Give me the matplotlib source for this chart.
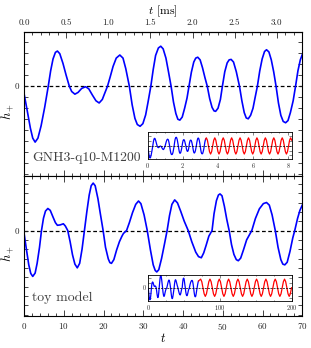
import numpy as np
import matplotlib
matplotlib.use("Agg")
import matplotlib.pyplot as plt
from matplotlib.ticker import MultipleLocator, FixedLocator, FuncFormatter

plt.rcParams['font.family'] = 'serif'
plt.rcParams['font.serif'] = ['cmr10']
plt.rcParams['mathtext.fontset'] = 'cm'
plt.rcParams['axes.formatter.use_mathtext'] = True

MS_PER_T = 0.04717

# top panel: GNH3-q10-M1200 waveform
t_gnh = [0.0, 0.8, 1.6, 2.2, 2.8, 3.5, 4.3, 5.2, 6.1, 6.7, 7.3, 7.9, 8.4, 9.0, 9.8,
         10.6, 11.4, 12.0, 12.8, 13.6, 14.5, 15.5, 16.3, 17.2, 18.1, 18.9, 19.7,
         20.3, 21.0, 21.7, 22.4, 23.2, 24.1, 24.9, 25.6, 26.5, 27.2, 27.9, 28.5,
         29.2, 29.9, 30.6, 31.2, 31.9, 32.5, 33.1, 33.8, 34.4, 35.0, 35.7, 36.3,
         37.0, 37.6, 38.2, 38.7, 39.2, 39.8, 40.4, 41.0, 41.5, 42.1, 42.7, 43.2,
         43.7, 44.3, 44.9, 45.5, 46.1, 46.7, 47.3, 47.8, 48.2, 48.8, 49.4, 49.9,
         50.5, 51.1, 51.6, 52.1, 52.7, 53.4, 54.2, 54.8, 55.4, 55.9, 56.4, 57.0,
         57.6, 58.1, 58.7, 59.3, 59.9, 60.5, 61.0, 61.6, 62.2, 62.8, 63.4, 64.0,
         64.6, 65.2, 65.8, 66.4, 67.0, 67.7, 68.3, 68.9, 69.5, 70.0]
h_gnh = [-0.16, -0.55, -0.95, -1.18, -1.27, -1.18, -0.90, -0.48, 0.0, 0.35, 0.62,
         0.77, 0.80, 0.74, 0.52, 0.25, 0.0, -0.12, -0.18, -0.14, -0.05, -0.01,
         -0.06, -0.20, -0.33, -0.38, -0.30, -0.16, 0.0, 0.22, 0.45, 0.64, 0.71,
         0.64, 0.40, 0.0, -0.42, -0.73, -0.87, -0.91, -0.85, -0.65, -0.36, 0.0,
         0.38, 0.70, 0.87, 0.91, 0.85, 0.64, 0.35, 0.0, -0.36, -0.62, -0.75,
         -0.77, -0.70, -0.50, -0.27, 0.0, 0.32, 0.55, 0.64, 0.66, 0.60, 0.42,
         0.20, 0.0, -0.28, -0.48, -0.56, -0.57, -0.50, -0.30, 0.0, 0.33, 0.53,
         0.60, 0.61, 0.55, 0.33, 0.0, -0.33, -0.60, -0.72, -0.74, -0.66, -0.50,
         -0.27, 0.0, 0.35, 0.62, 0.79, 0.83, 0.78, 0.60, 0.33, 0.0, -0.38, -0.66,
         -0.80, -0.83, -0.78, -0.60, -0.33, 0.0, 0.35, 0.60, 0.72]

# continuation shown in red in the top inset (ms)
ms_gnh_red = [3.30, 3.34, 3.40, 3.46, 3.52, 3.58, 3.64, 3.70, 3.76, 3.82, 3.88,
              3.94, 4.00, 4.06, 4.12, 4.18, 4.24, 4.30, 4.36, 4.42, 4.48, 4.54,
              4.60, 4.66, 4.72, 4.78, 4.84, 4.90, 4.96, 5.02, 5.08, 5.14, 5.20,
              5.26, 5.32, 5.38, 5.44, 5.50, 5.56, 5.62, 5.68, 5.74, 5.80, 5.86,
              5.92, 5.98, 6.04, 6.10, 6.16, 6.22, 6.28, 6.34, 6.40, 6.46, 6.52,
              6.58, 6.64, 6.70, 6.76, 6.82, 6.88, 6.94, 7.00, 7.06, 7.12, 7.18,
              7.24, 7.30, 7.36, 7.42, 7.48, 7.54, 7.60, 7.66, 7.72, 7.78, 7.84,
              7.90, 7.96, 8.02, 8.08, 8.14, 8.20]
h_gnh_red = [0.72, 0.85, 0.60, 0.0, -0.60, -0.85, -0.60, 0.0, 0.60, 0.85, 0.60,
             0.0, -0.60, -0.85, -0.60, 0.0, 0.60, 0.85, 0.60, 0.0, -0.60, -0.85,
             -0.60, 0.0, 0.60, 0.85, 0.60, 0.0, -0.60, -0.85, -0.60, 0.0, 0.60,
             0.85, 0.60, 0.0, -0.60, -0.85, -0.60, 0.0, 0.60, 0.85, 0.60, 0.0,
             -0.60, -0.85, -0.60, 0.0, 0.60, 0.85, 0.60, 0.0, -0.60, -0.85, -0.60,
             0.0, 0.60, 0.85, 0.60, 0.0, -0.60, -0.85, -0.60, 0.0, 0.60, 0.85,
             0.60, 0.0, -0.60, -0.85, -0.60, 0.0, 0.60, 0.85, 0.60, 0.0, -0.60,
             -0.85, -0.60, 0.0, 0.60, 0.85, 0.60]

# bottom panel: toy model
t_toy = [0.0, 0.6, 1.2, 1.7, 2.2, 2.8, 3.3, 3.9, 4.4, 4.9, 5.4, 6.0, 6.6, 7.3, 7.9,
         8.4, 9.1, 9.9, 10.4, 11.0, 11.6, 12.2, 12.8, 13.4, 14.0, 14.6, 15.2,
         15.8, 16.4, 16.9, 17.4, 17.9, 18.6, 19.2, 19.9, 20.5, 21.2, 21.6, 22.0,
         22.6, 23.3, 24.0, 24.6, 25.0, 25.8, 26.5, 27.3, 28.1, 28.8, 29.4, 30.2,
         31.0, 31.8, 32.5, 33.0, 33.4, 33.9, 34.6, 35.3, 36.0, 36.6, 37.2, 37.9,
         38.6, 39.4, 40.3, 41.3, 42.2, 43.2, 43.9, 44.6, 45.2, 45.8, 46.5, 47.3,
         47.8, 48.4, 48.9, 49.3, 49.8, 50.4, 51.0, 51.6, 52.2, 52.8, 53.4, 53.9,
         54.5, 55.2, 56.0, 57.3, 58.2, 59.2, 60.2, 61.0, 61.7, 62.4, 63.2, 63.9,
         64.6, 65.1, 65.6, 66.2, 66.9, 67.6, 68.1, 68.8, 69.4, 70.0]
h_toy = [-0.06, -0.50, -0.92, -1.15, -1.23, -1.14, -0.88, -0.45, 0.0, 0.33, 0.52,
         0.59, 0.54, 0.36, 0.21, 0.14, 0.15, 0.18, 0.12, 0.0, -0.30, -0.65,
         -0.90, -1.00, -0.88, -0.50, 0.0, 0.50, 0.95, 1.20, 1.27, 1.20, 0.85,
         0.45, 0.0, -0.45, -0.76, -0.86, -0.88, -0.78, -0.52, -0.30, -0.16,
         -0.08, 0.0, 0.21, 0.48, 0.70, 0.79, 0.72, 0.42, 0.0, -0.52, -0.92,
         -1.07, -1.11, -1.05, -0.75, -0.38, 0.0, 0.40, 0.70, 0.82, 0.74, 0.52,
         0.25, 0.0, -0.30, -0.58, -0.70, -0.73, -0.60, -0.40, -0.15, 0.0, 0.45,
         0.80, 0.95, 0.98, 0.93, 0.65, 0.30, 0.0, -0.38, -0.64, -0.78, -0.81,
         -0.74, -0.52, -0.25, 0.0, 0.32, 0.58, 0.72, 0.75, 0.68, 0.42, 0.0,
         -0.45, -0.78, -0.90, -0.92, -0.85, -0.56, -0.20, 0.0, 0.32, 0.54, 0.68]

t_toy_red = [70.0, 73.0, 74.6, 76.25, 77.9, 79.5, 81.1, 82.75, 84.4, 86.0, 87.6,
             89.25, 90.9, 92.5, 94.1, 95.75, 97.4, 99.0, 100.6, 102.25, 103.9,
             105.5, 107.1, 108.75, 110.4, 112.0, 113.6, 115.25, 116.9, 118.5,
             120.1, 121.75, 123.4, 125.0, 126.6, 128.25, 129.9, 131.5, 133.1,
             134.75, 136.4, 138.0, 139.6, 141.25, 142.9, 144.5, 146.1, 147.75,
             149.4, 151.0, 152.6, 154.25, 155.9, 157.5, 159.1, 160.75, 162.4,
             164.0, 165.6, 167.25, 168.9, 170.5, 172.1, 173.75, 175.4, 177.0,
             178.6, 180.25, 181.9, 183.5, 185.1, 186.75, 188.4, 190.0, 191.6,
             193.25, 194.9, 196.5, 198.1, 199.75]
h_toy_red = [0.68, 0.88, 0.62, 0.0, -0.62, -0.88, -0.62, 0.0, 0.62, 0.88, 0.62,
             0.0, -0.62, -0.88, -0.62, 0.0, 0.62, 0.88, 0.62, 0.0, -0.62, -0.88,
             -0.62, 0.0, 0.62, 0.88, 0.62, 0.0, -0.62, -0.88, -0.62, 0.0, 0.62,
             0.88, 0.62, 0.0, -0.62, -0.88, -0.62, 0.0, 0.62, 0.88, 0.62, 0.0,
             -0.62, -0.88, -0.62, 0.0, 0.62, 0.88, 0.62, 0.0, -0.62, -0.88,
             -0.62, 0.0, 0.62, 0.88, 0.62, 0.0, -0.62, -0.88, -0.62, 0.0, 0.62,
             0.88, 0.62, 0.0, -0.62, -0.88, -0.62, 0.0, 0.62, 0.88, 0.62, 0.0,
             -0.62, -0.88, -0.62, 0.0]

ms_ticks = [0.0, 0.5, 1.0, 1.5, 2.0, 2.5, 3.0]

W, H = 311, 348
fig = plt.figure(figsize=(W / 100, H / 100), dpi=100)


def px_axes(x0, y0, x1, y1):
    return fig.add_axes([x0 / W, 1 - y1 / H, (x1 - x0) / W, (y1 - y0) / H])


zero_fmt = FuncFormatter(lambda v, p: '0' if abs(v) < 1e-9 else '')


def style_main(ax, ylim):
    ax.set_xlim(0, 70)
    ax.set_ylim(*ylim)
    ax.xaxis.set_major_locator(MultipleLocator(10))
    ax.xaxis.set_minor_locator(MultipleLocator(2))
    ax.yaxis.set_major_locator(MultipleLocator(0.25))
    ax.yaxis.set_major_formatter(zero_fmt)
    ax.tick_params(which='both', direction='in', top=True, right=True,
                   labelsize=6.5, width=0.6, colors='0.15')
    ax.tick_params(which='major', length=4)
    ax.tick_params(which='minor', length=2)
    ax.tick_params(axis='y', which='major', length=3)
    for s in ax.spines.values():
        s.set_linewidth(0.8)
    ax.axhline(0, color='k', lw=0.9, ls=(0, (3, 2)), zorder=1)
    ax.set_ylabel('$h_+$', fontsize=9)
    ax.yaxis.set_label_coords(-0.03, 0.45)


def style_inset(ax, xlim, ylim, xmaj, xmin):
    ax.set_xlim(*xlim)
    ax.set_ylim(*ylim)
    ax.xaxis.set_major_locator(MultipleLocator(xmaj))
    ax.xaxis.set_minor_locator(MultipleLocator(xmin))
    ax.yaxis.set_major_locator(MultipleLocator(0.5))
    ax.tick_params(which='both', direction='in', top=True, right=True,
                   labelsize=4.5, width=0.4, pad=1.5, colors='0.15')
    ax.tick_params(which='major', length=2)
    ax.tick_params(which='minor', length=1)
    for s in ax.spines.values():
        s.set_linewidth(0.6)
    ax.axhline(0, color='k', lw=0.5, ls=(0, (3, 1.5)), zorder=3)


# ---- top panel
ax1 = px_axes(24, 31.7, 302.3, 176)
ax1.plot(t_gnh, h_gnh, color='#0000ff', lw=1.2, zorder=2)
style_main(ax1, (-2.04, 1.24))
ax1.tick_params(labelbottom=False)
sec = ax1.secondary_xaxis('top', functions=(lambda t: t * MS_PER_T,
                                            lambda m: m / MS_PER_T))
sec.xaxis.set_major_locator(FixedLocator(ms_ticks))
sec.xaxis.set_minor_locator(FixedLocator(np.arange(0.1, 3.31, 0.1)))
sec.xaxis.set_major_formatter(FuncFormatter(lambda v, p: f'{v:.1f}'))
sec.tick_params(which='both', direction='in', labelsize=6.5, width=0.6,
                colors='0.15')
sec.tick_params(which='major', length=4)
sec.tick_params(which='minor', length=2)
sec.set_xlabel('$t$ [ms]', fontsize=8.5, labelpad=3)
ax1.tick_params(axis='x', top=False, which='both')
ax1.text(0.03, 0.08, 'GNH3-q10-M1200', transform=ax1.transAxes,
         fontsize=9.9, color='0.25', va='bottom')

in1 = px_axes(147.7, 132.3, 291.7, 159.3)
in1.plot(np.asarray(t_gnh) * MS_PER_T, h_gnh, color='#0000ff', lw=0.9)
in1.plot(ms_gnh_red, h_gnh_red, color='#ff0000', lw=0.9)
style_inset(in1, (0, 8.2), (-1.4, 1.43), 2, 0.5)
in1.yaxis.set_major_formatter(FuncFormatter(lambda v, p: ''))

# ---- bottom panel
ax2 = px_axes(24, 176, 302.3, 316)
ax2.plot(t_toy, h_toy, color='#0000ff', lw=1.2, zorder=2)
style_main(ax2, (-2.29, 1.46))
ax2.set_xlabel('$t$', fontsize=9, labelpad=0)
ax2.text(0.03, 0.085, 'toy model', transform=ax2.transAxes,
         fontsize=10, color='0.25', va='bottom')

in2 = px_axes(148.3, 275, 291.7, 301)
in2.plot(t_toy, h_toy, color='#0000ff', lw=0.9)
in2.plot(t_toy_red, h_toy_red, color='#ff0000', lw=0.9)
style_inset(in2, (0, 200), (-1.35, 1.3), 100, 25)
in2.yaxis.set_major_formatter(zero_fmt)

fig.savefig('out.png', dpi=100)
